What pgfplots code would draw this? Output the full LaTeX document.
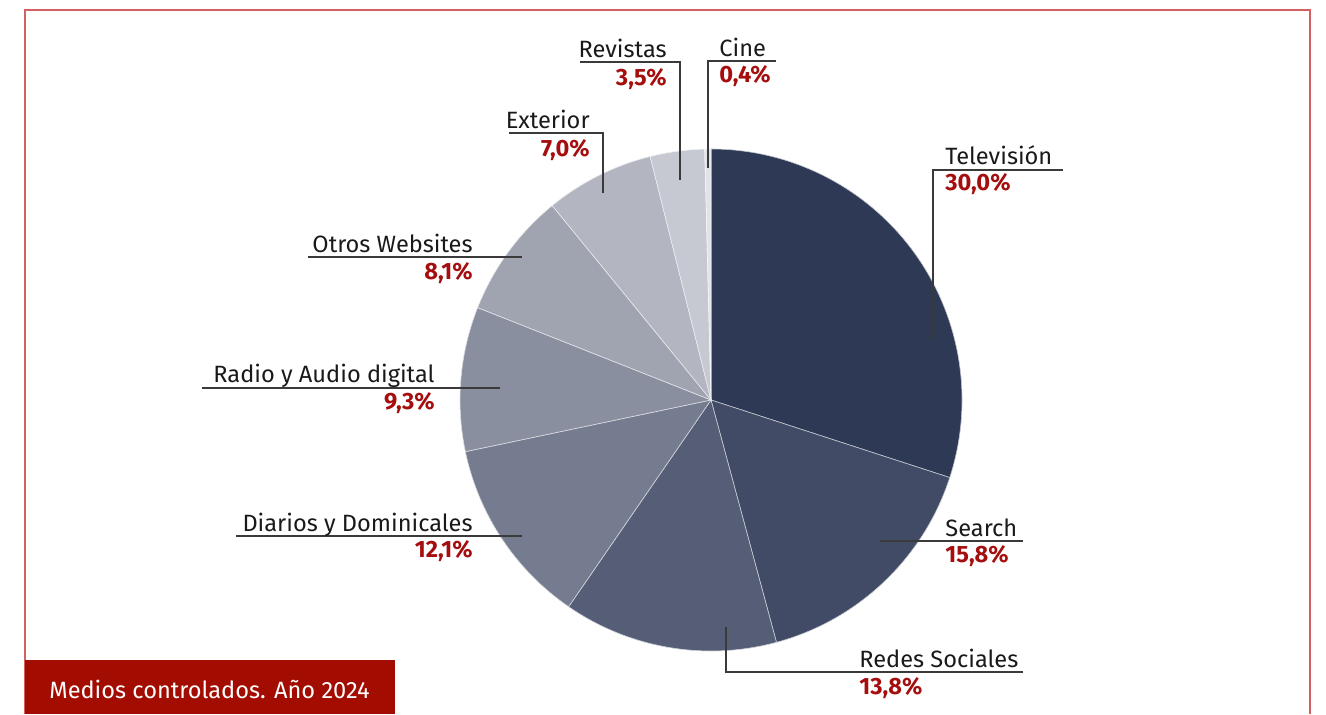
\documentclass[border=0pt]{standalone}
\usepackage{pgfplots}
\pgfplotsset{compat=1.18}
\usepackage{pgfplotstable}
\usepackage{fontspec}
\setmainfont{Fira Sans}

\definecolor{c1}{HTML}{2E3955}
\definecolor{c2}{HTML}{414B66}
\definecolor{c3}{HTML}{555D77}
\definecolor{c4}{HTML}{767C8F}
\definecolor{c5}{HTML}{8A8F9F}
\definecolor{c6}{HTML}{A0A4B1}
\definecolor{c7}{HTML}{B3B6C1}
\definecolor{c8}{HTML}{C7C9D2}
\definecolor{c9}{HTML}{E2E3E8}
\definecolor{pctred}{HTML}{A50E0E}
\definecolor{boxred}{HTML}{A30C00}
\definecolor{framered}{HTML}{D46060}
\definecolor{leadgray}{HTML}{3A3A3A}

% share of each medium, clockwise from 12 o'clock
\pgfplotstableread{
value color
30.0  c1
15.8  c2
13.8  c3
12.1  c4
9.3   c5
8.1   c6
7.0   c7
3.5   c8
0.4   c9
}\piedata

\newcommand\lab{\fontsize{11.8}{14}\selectfont}
\tikzset{
  name/.style={inner sep=0pt, font=\lab, text=black!90},
  pct/.style={inner sep=0pt, font=\lab\bfseries, text=pctred},
  leader/.style={draw=leadgray, line width=0.7pt},
}

\begin{document}
\begin{tikzpicture}
\begin{axis}[
    scale only axis,
    width=663pt, height=357pt,
    xmin=0, xmax=1326, ymin=0, ymax=714,
    y dir=reverse,
    hide axis,
    clip=false,
]
% pie slices
\def\startangle{90}
\pgfplotsforeachungrouped \i in {0,...,8}{%
  \pgfplotstablegetelem{\i}{value}\of\piedata \let\val\pgfplotsretval
  \pgfplotstablegetelem{\i}{color}\of\piedata \let\col\pgfplotsretval
  \pgfmathsetmacro\endangle{\startangle-3.6*\val}
  \edef\slice{\noexpand\fill[\col, draw=white!70!\col, line width=0.3pt]
    (axis cs:711,400) -- ++(\startangle:125.5pt)
    arc[start angle=\startangle, end angle=\endangle, radius=125.5pt] -- cycle;}
  \slice
  \let\startangle\endangle
}

% frame and caption box
\draw[framered, line width=0.8pt] (axis cs:25,714) -- (axis cs:25,10) -- (axis cs:1310,10) -- (axis cs:1310,714);
\fill[boxred] (axis cs:25,660) rectangle (axis cs:395,714);
\node[anchor=base west, inner sep=0pt, font=\lab, text=white] at (axis cs:49,698) {Medios controlados. Año 2024};

% Televisión
\draw[leader] (axis cs:933,340) -- (axis cs:933,170) -- (axis cs:1063,170);
\node[name, anchor=base west] at (axis cs:945,165) {Televisión};
\node[pct, anchor=base west] at (axis cs:945,191) {30,0\%};
% Search
\draw[leader] (axis cs:880,541) -- (axis cs:1023,541);
\node[name, anchor=base west] at (axis cs:945,537) {Search};
\node[pct, anchor=base west] at (axis cs:945,563) {15,8\%};
% Redes Sociales
\draw[leader] (axis cs:726,627) -- (axis cs:726,672) -- (axis cs:1023,672);
\node[name, anchor=base west] at (axis cs:859,667) {Redes Sociales};
\node[pct, anchor=base west] at (axis cs:859,694) {13,8\%};
% Diarios y Dominicales
\draw[leader] (axis cs:522,536) -- (axis cs:236,536);
\node[name, anchor=base east] at (axis cs:473,532) {Diarios y Dominicales};
\node[pct, anchor=base east] at (axis cs:473,558) {12,1\%};
% Radio y Audio digital
\draw[leader] (axis cs:500,388) -- (axis cs:202,388);
\node[name, anchor=base east] at (axis cs:435,383) {Radio y Audio digital};
\node[pct, anchor=base east] at (axis cs:435,410) {9,3\%};
% Otros Websites
\draw[leader] (axis cs:522,257) -- (axis cs:308,257);
\node[name, anchor=base east] at (axis cs:473,253) {Otros Websites};
\node[pct, anchor=base east] at (axis cs:473,280) {8,1\%};
% Exterior
\draw[leader] (axis cs:603,193) -- (axis cs:603,133) -- (axis cs:509,133);
\node[name, anchor=base east] at (axis cs:590,129) {Exterior};
\node[pct, anchor=base east] at (axis cs:590,157) {7,0\%};
% Revistas
\draw[leader] (axis cs:680,180) -- (axis cs:680,62) -- (axis cs:580,62);
\node[name, anchor=base east] at (axis cs:667,58) {Revistas};
\node[pct, anchor=base east] at (axis cs:667,86) {3,5\%};
% Cine
\draw[leader] (axis cs:708,168) -- (axis cs:708,61) -- (axis cs:776,61);
\node[name, anchor=base west] at (axis cs:719,57) {Cine};
\node[pct, anchor=base west] at (axis cs:719,83) {0,4\%};

\path (axis cs:0,0) (axis cs:1326,714);
\end{axis}
\end{tikzpicture}
\end{document}
